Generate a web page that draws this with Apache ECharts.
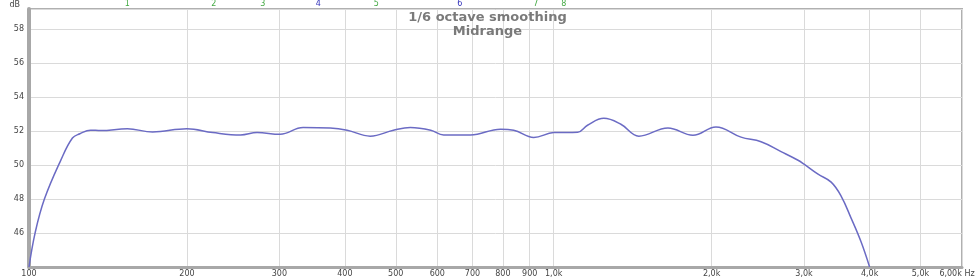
<!DOCTYPE html>
<html><head><meta charset="utf-8">
<script src="https://cdn.jsdelivr.net/npm/echarts@6/dist/echarts.min.js"></script>
<style>html,body{margin:0;padding:0;background:#fff}#c{width:975px;height:280px}</style>
</head><body><div id="c"></div>
<script>
// Frequency (Hz) and level (dB) of the measured curve
const freqs = [100, 102.7, 107, 115, 121, 125, 131, 137, 154, 172, 200, 224, 253, 272, 301, 333, 375, 404, 447, 495, 533, 583, 617, 694, 792, 839, 916, 1000, 1111, 1160, 1246, 1343, 1453, 1651, 1842, 2038, 2275, 2484, 2712, 2922, 3000, 3190, 3379, 3530, 3688, 3854, 4000];
const levels = [44.0, 46.0, 48.0, 50.3, 51.6, 51.85, 52.06, 52.04, 52.14, 51.96, 52.14, 51.92, 51.78, 51.92, 51.82, 52.22, 52.19, 52.06, 51.71, 52.06, 52.22, 52.06, 51.78, 51.78, 52.12, 52.06, 51.63, 51.92, 51.94, 52.35, 52.76, 52.41, 51.71, 52.19, 51.76, 52.25, 51.65, 51.38, 50.8, 50.29, 50.06, 49.47, 49.0, 48.18, 46.88, 45.47, 44.0];
// X tick values and labels
const xTicks = [100, 200, 300, 400, 500, 600, 700, 800, 900, 1000, 2000, 3000, 4000, 5000, 6000];
const xTickLabels = ['100', '200', '300', '400', '500', '600', '700', '800', '900', '1,0k', '2,0k', '3,0k', '4,0k', '5,0k', '6,00k Hz'];
// Harmonic markers along the top
const markerFreqs = [154, 225, 279, 356, 459, 662, 924, 1045];
const markerLabels = ['1', '2', '3', '4', '5', '6', '7', '8'];
const markerColors = ['#44aa44', '#44aa44', '#44aa44', '#3333bb', '#44aa44', '#3333bb', '#44aa44', '#44aa44'];

function nearestIdx(arr, v) {
  let best = 0, bd = Infinity;
  arr.forEach((a, i) => { const d = Math.abs(Math.log(a) - Math.log(v)); if (d < bd) { bd = d; best = i; } });
  return best;
}

const chart = echarts.init(document.getElementById('c'), null, {renderer: 'canvas'});
const font = 'DejaVu Sans';
chart.setOption({
  animation: false,
  backgroundColor: '#fff',
  title: {
    text: '1/6 octave smoothing\nMidrange',
    left: 'center', top: 6,
    textStyle: {fontFamily: font, fontSize: 13, fontWeight: 'bold', color: '#7a7a7a', lineHeight: 14}
  },
  grid: {left: 29, right: 13, top: 9, bottom: 13, show: true, borderColor: '#b0b0b0', borderWidth: 2,
         containLabel: false, outerBoundsMode: 'none'},
  xAxis: [{
    type: 'log', logBase: 10, min: 100, max: 6000,
    axisLine: {show: true, lineStyle: {color: '#a8a8a8', width: 3}},
    axisTick: {show: false, customValues: xTicks},
    splitLine: {show: true, lineStyle: {color: '#dadada', width: 1}},
    axisLabel: {
      customValues: xTicks, margin: 3, fontFamily: font, fontSize: 8, color: '#444',
      formatter: v => {
        const i = nearestIdx(xTicks, v);
        return i === xTicks.length - 1 ? '{last|' + xTickLabels[i] + '}' : xTickLabels[i];
      },
      rich: {last: {fontFamily: font, fontSize: 8, color: '#444', padding: [0, 10, 0, 0]}}
    }
  }, {
    type: 'log', logBase: 10, min: 100, max: 6000, position: 'top',
    axisLine: {show: false}, axisTick: {show: false, customValues: markerFreqs},
    splitLine: {show: false},
    axisLabel: {
      customValues: markerFreqs, margin: 1, fontFamily: font, fontSize: 8,
      formatter: v => markerLabels[nearestIdx(markerFreqs, v)],
      color: (v) => markerColors[nearestIdx(markerFreqs, Number(v))]
    }
  }],
  yAxis: {
    type: 'value', min: 44, max: 59.2, interval: 2,
    name: 'dB', nameLocation: 'end', nameGap: 0,
    nameTextStyle: {fontFamily: font, fontSize: 8, color: '#444', align: 'right', verticalAlign: 'bottom', padding: [0, 9, 0, 0]},
    axisLine: {show: true, lineStyle: {color: '#a8a8a8', width: 4}},
    axisTick: {show: false},
    splitLine: {show: true, lineStyle: {color: '#dadada', width: 1}},
    axisLabel: {
      margin: 5, fontFamily: font, fontSize: 8, color: '#444',
      formatter: v => (v >= 46 && v <= 58 && Math.abs(v - Math.round(v)) < 1e-6) ? String(v) : ''
    }
  },
  series: [{
    type: 'line', xAxisIndex: 0,
    data: freqs.map((f, i) => [f, levels[i]]),
    smooth: 0.4, showSymbol: false,
    lineStyle: {color: '#6b6bc4', width: 1.5},
    clip: true
  }]
});
</script></body></html>
